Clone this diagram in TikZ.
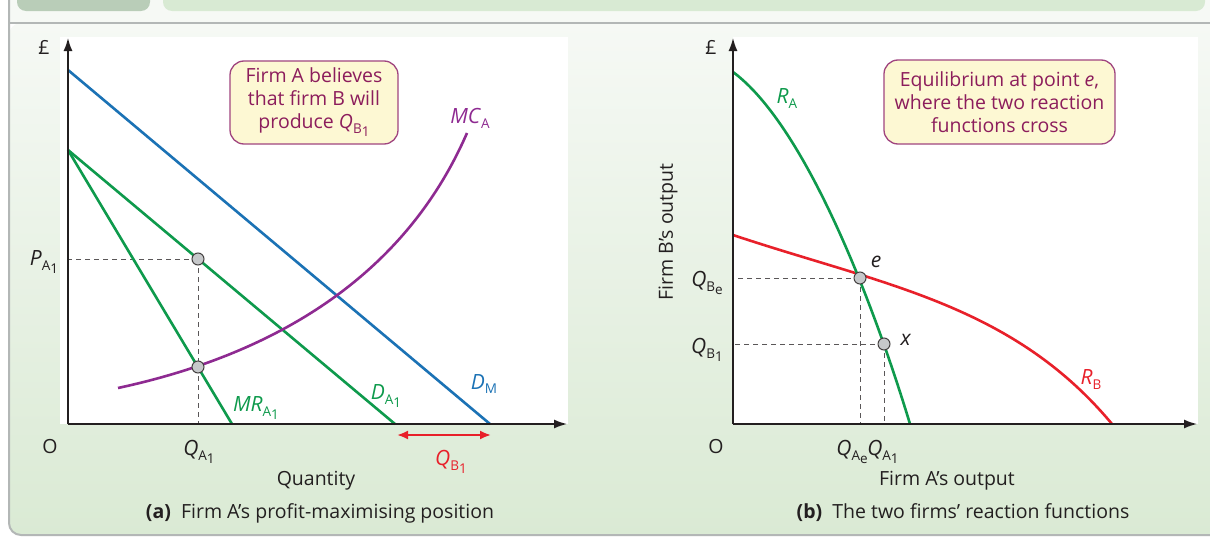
\documentclass[tikz,border=0pt]{standalone}
\usepackage{fontspec}
\setmainfont{Open Sans}
\usetikzlibrary{arrows.meta}
\definecolor{bgtop}{HTML}{F6F9F5}
\definecolor{bgbot}{HTML}{DAEAD4}
\definecolor{tabdark}{HTML}{B9CDB8}
\definecolor{tablight}{HTML}{D8EAD3}
\definecolor{bordergrey}{HTML}{B3B7B6}
\definecolor{cblue}{HTML}{1B72B5}
\definecolor{cgreen}{HTML}{0E9A4C}
\definecolor{cpurple}{HTML}{8E2A91}
\definecolor{cred}{HTML}{E8202A}
\definecolor{boxfill}{HTML}{FDF8D3}
\definecolor{boxline}{HTML}{A0457F}
\definecolor{boxtext}{HTML}{8C1D5C}
\definecolor{inkc}{HTML}{231F20}
\definecolor{dotfill}{HTML}{C6C8CA}
\newcommand{\sbs}[3]{\textit{#1}\raisebox{-5pt}{\fontsize{13.5}{14}\selectfont #2\raisebox{-3pt}{#3}}}
\newcommand{\sbo}[2]{\textit{#1}\raisebox{-5pt}{\fontsize{13.5}{14}\selectfont #2}}
\begin{document}
\begin{tikzpicture}[x=1pt,y=-1pt,
  font=\fontsize{19.5}{23}\selectfont, text=inkc,
  axisline/.style={draw=inkc, line width=1.5pt, -{Latex[length=13pt,width=9pt]}},
  curve/.style={line width=2.6pt},
  guide/.style={draw=inkc!75, line width=1pt, dash pattern=on 5pt off 4pt},
  dot/.style={circle, draw=inkc!85, line width=1pt, fill=dotfill, minimum size=12pt, inner sep=0pt},
  notebox/.style={draw=boxline, line width=1.3pt, fill=boxfill, rounded corners=14pt, text=boxtext, align=center, inner sep=0pt},
  lbl/.style={inner sep=1pt},
  big/.style={font=\fontsize{21}{24}\selectfont}
]
\useasboundingbox (0,0) rectangle (1210,538);
% background and frame
\fill[white] (0,0) rectangle (1210,538);
\fill[bgtop] (9,0) rectangle (1210,23);
\fill[tabdark, rounded corners=9pt] (17,-15) rectangle (150,11);
\fill[tablight, rounded corners=9pt] (163,-15) rectangle (1205,11);
\shade[top color=bgtop, bottom color=bgbot, rounded corners=12pt] (9,23) rectangle (1240,535);
\draw[bordergrey, line width=2pt, rounded corners=12pt] (9,0) -- (9,535) -- (1240,535);
\draw[bordergrey, line width=2pt] (9,23) -- (1210,23);
% white plot areas
\fill[white] (60,37) rectangle (568,424);
\fill[white] (733,37) rectangle (1198,424);

% ===== Panel (a) =====
\coordinate (LO) at (68,424);
\coordinate (LY) at (68,38);
\coordinate (LX) at (567,424);
\coordinate (dm0) at (68,70);
\coordinate (dm1) at (490,424);
\coordinate (da0) at (68,150);
\coordinate (da1) at (395,424);
\coordinate (mr1) at (232,424);
\coordinate (mc0) at (118,388);
\coordinate (mc1) at (467,133);
\coordinate (pa) at (198,259);
\coordinate (pm) at (198,367);
\draw[guide] (pa) -- (pa -| LO);
\draw[guide] (pa) -- (pa |- LO);
\draw[cblue, curve] (dm0) -- (dm1);
\draw[cgreen, curve] (da0) -- (da1);
\draw[cgreen, curve] (da0) -- (mr1);
\draw[cpurple, curve] (mc0) .. controls (248,360) and (397,294) .. (mc1);
\draw[axisline] (LO) -- (LY);
\draw[axisline] (LO) -- (LX);
\node[dot] (dpa) at (pa) {};
\node[dot] (dpm) at (pm) {};
\coordinate (qb0) at (397,435);
\coordinate (qb1) at (491,435);
\draw[cred, line width=2pt, {Latex[length=11pt,width=9pt]}-{Latex[length=11pt,width=9pt]}] (qb0) -- (qb1);
\node[lbl] (pound1) at (44,47) {£};
\node[lbl] (o1) at (50,447) {O};
\node[lbl, big] (lpa) at (44,262) {\sbs{P}{A}{1}};
\node[lbl, big] (lqa) at (199,452) {\sbs{Q}{A}{1}};
\node[lbl, big, text=cred] (lqb) at (451,462) {\sbs{Q}{B}{1}};
\node[lbl, big, text=cgreen] (lmr) at (256,408) {\sbs{MR}{A}{1}};
\node[lbl, big, text=cgreen] (lda) at (386,396) {\sbs{D}{A}{1}};
\node[lbl, big, text=cblue] (ldm) at (484,384) {\sbo{D}{M}};
\node[lbl, big, text=cpurple] (lmc) at (470,118) {\sbo{MC}{A}};
\node[lbl] (quant) at (316,481) {Quantity};
\node[lbl] (capa) at (320,513) {\textbf{(a)}\ \ Firm A’s profit-maximising position};
\node[notebox, minimum width=168pt, minimum height=83pt] (box1) at (314,102.5)
  {Firm A believes\\that firm B will\\produce \sbs{Q}{B}{1}};

% ===== Panel (b) =====
\coordinate (RO) at (733,424);
\coordinate (RY) at (733,38);
\coordinate (RX) at (1197,424);
\coordinate (ra0) at (733,72);
\coordinate (ra1) at (910,424);
\coordinate (rb0) at (733,235);
\coordinate (rb1) at (1112,424);
\coordinate (pe) at (860,278);
\coordinate (px) at (884,344);
\draw[guide] (pe) -- (pe -| RO);
\draw[guide] (pe) -- (pe |- RO);
\draw[guide] (px) -- (px -| RO);
\draw[guide] (px) -- (px |- RO);
\draw[cred, curve] (rb0) .. controls (883,285) and (1012,304) .. (rb1);
\draw[cgreen, curve] (ra0) .. controls (803,124) and (870,292) .. (ra1);
\draw[axisline] (RO) -- (RY);
\draw[axisline] (RO) -- (RX);
\node[dot] (dpe) at (pe) {};
\node[dot] (dpx) at (px) {};
\node[lbl] (pound2) at (711,47) {£};
\node[lbl] (o2) at (716,447) {O};
\node[lbl, big] (lqbe) at (707,283) {\sbs{Q}{B}{e}};
\node[lbl, big] (lqb1) at (707,350) {\sbs{Q}{B}{1}};
\node[lbl, big] (lqae) at (852,452) {\sbs{Q}{A}{e}};
\node[lbl, big] (lqa1) at (883,452) {\sbs{Q}{A}{1}};
\node[lbl, big] (le) at (876,262) {\textit{e}};
\node[lbl, big] (lx) at (906,340) {\textit{x}};
\node[lbl, big, text=cgreen] (lra) at (787,99) {\sbo{R}{A}};
\node[lbl, big, text=cred] (lrb) at (1091,379) {\sbo{R}{B}};
\node[lbl, rotate=90] (yb) at (668,232) {Firm B’s output};
\node[lbl] (xa) at (947,481) {Firm A’s output};
\node[lbl] (capb) at (963,513) {\textbf{(b)}\ \ The two firms’ reaction functions};
\node[notebox, minimum width=231pt, minimum height=84pt] (box2) at (999.5,102)
  {Equilibrium at point \textit{e},\\where the two reaction\\functions cross};
\end{tikzpicture}
\end{document}
